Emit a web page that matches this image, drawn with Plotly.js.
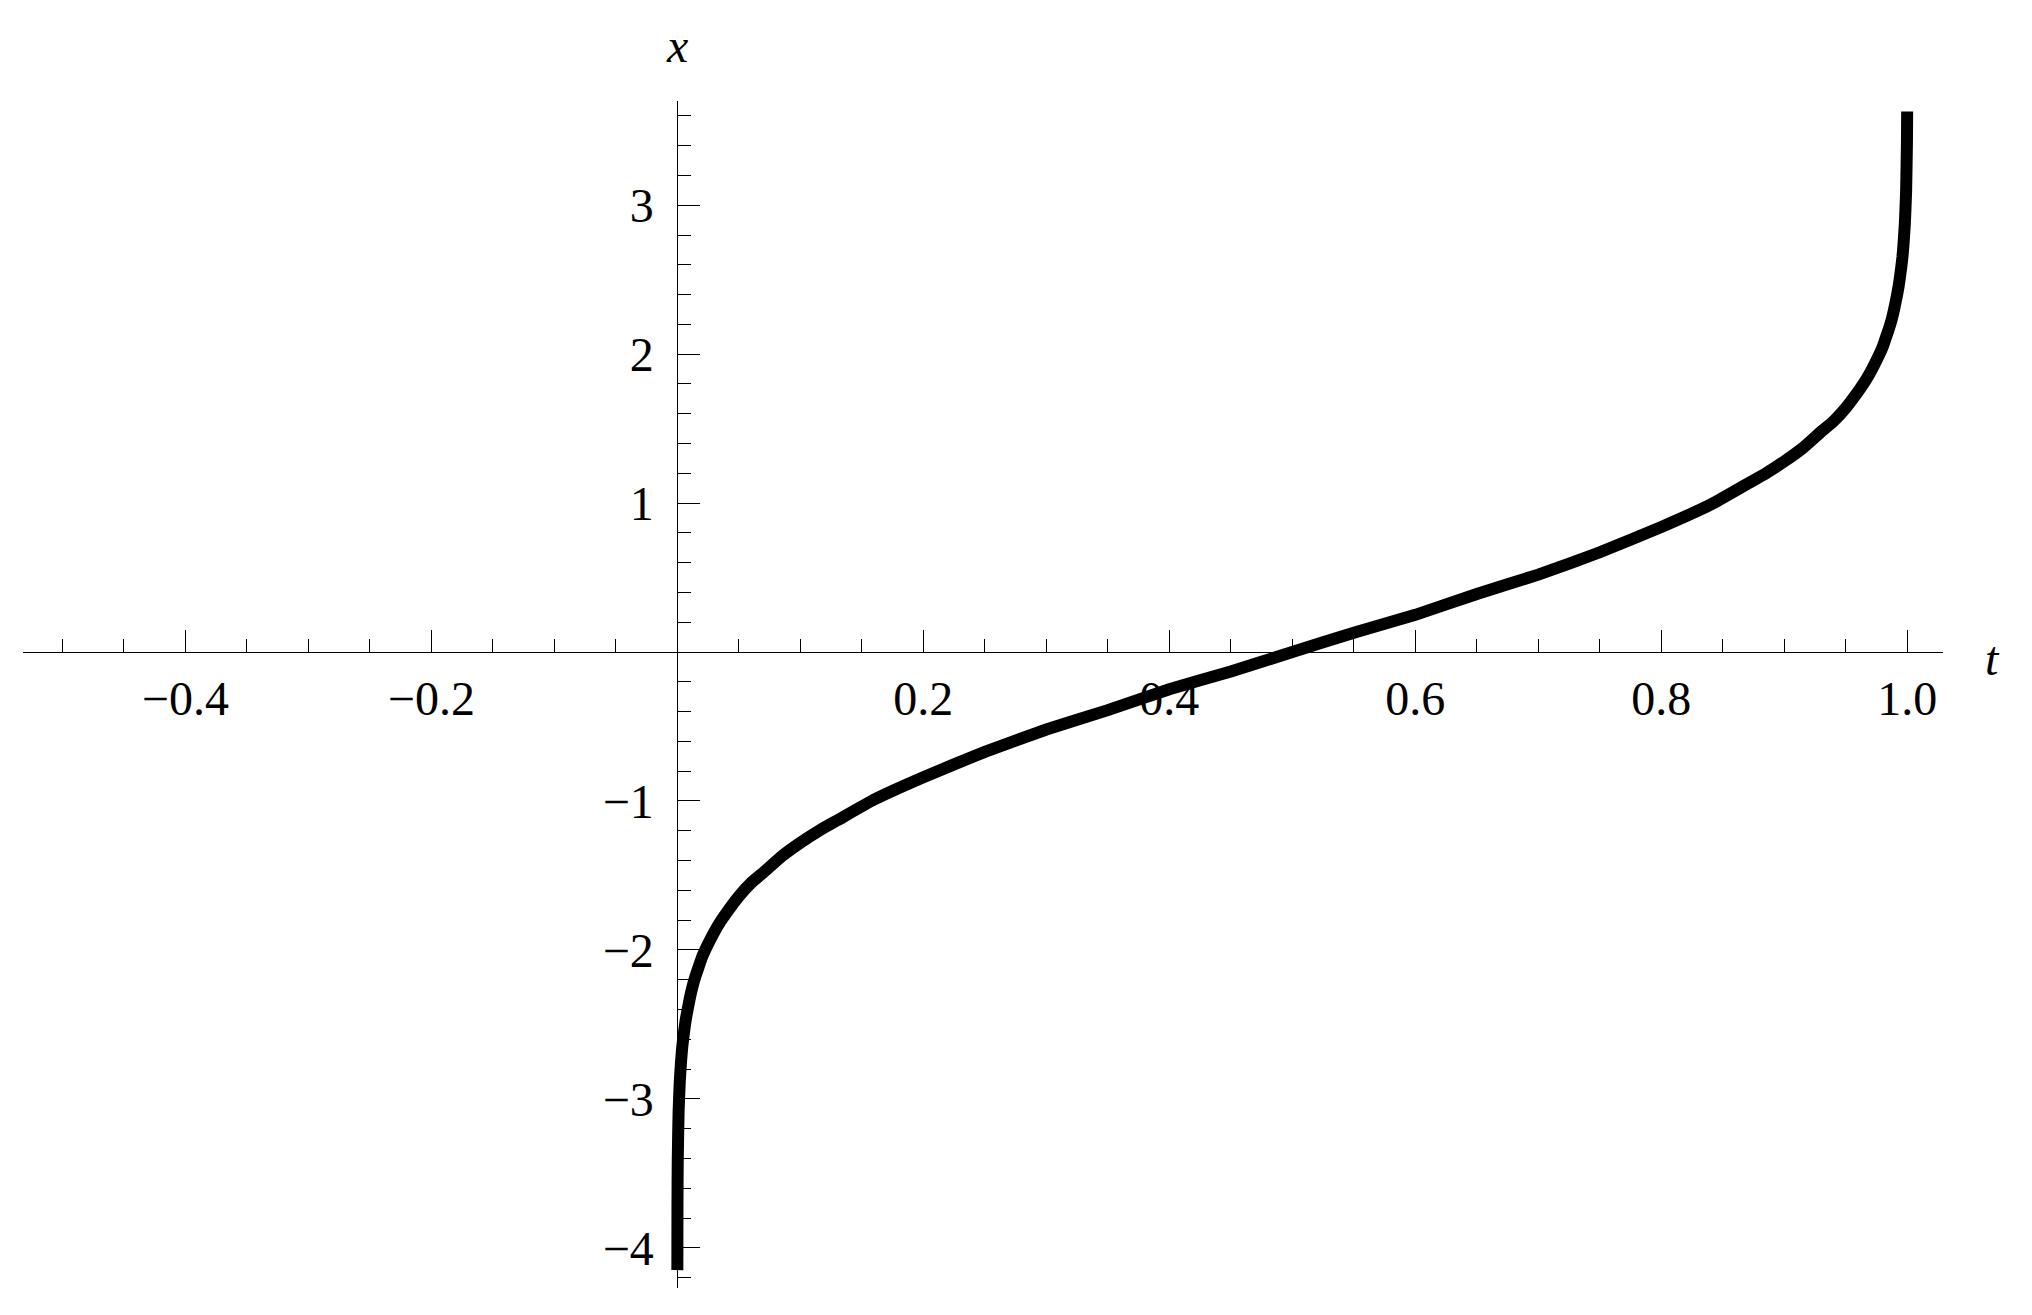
<!DOCTYPE html>
<html>
<head>
<meta charset="utf-8">
<script src="https://cdn.plot.ly/plotly-3.0.1.min.js"></script>
<style>
  html, body { margin: 0; padding: 0; background: #fff; }
  #chart { width: 2032px; height: 1315px; }
</style>
</head>
<body>
<div id="chart"></div>
<script>
// curve: t along the horizontal axis, x up the vertical one
const tValues = [
    0.000017, 0.00003, 0.0001, 0.0003, 0.001, 0.002, 0.003, 0.004, 0.005, 0.007,
    0.01, 0.0125, 0.015, 0.0175, 0.02, 0.025, 0.03, 0.035, 0.04, 0.05,
    0.06, 0.07, 0.085, 0.1, 0.115, 0.13, 0.16, 0.2, 0.25, 0.3,
    0.35, 0.4, 0.45, 0.5, 0.55, 0.6, 0.65, 0.7, 0.75, 0.8,
    0.84, 0.87, 0.885, 0.9, 0.915, 0.93, 0.94, 0.95, 0.96, 0.965,
    0.97, 0.975, 0.98, 0.9825, 0.985, 0.9875, 0.99, 0.993, 0.995, 0.996,
    0.997, 0.998, 0.999, 0.9997, 0.99986
];
const xValues = [
    -4.15, -4.0, -3.72, -3.43, -3.09, -2.88, -2.75, -2.65, -2.58, -2.46,
    -2.33, -2.24, -2.17, -2.11, -2.05, -1.96, -1.88, -1.81, -1.75, -1.64,
    -1.55, -1.48, -1.37, -1.28, -1.20, -1.13, -0.99, -0.84, -0.67, -0.52,
    -0.39, -0.25, -0.13, 0.0, 0.13, 0.25, 0.39, 0.52, 0.67, 0.84,
    0.99, 1.13, 1.20, 1.28, 1.37, 1.48, 1.55, 1.64, 1.75, 1.81,
    1.88, 1.96, 2.05, 2.11, 2.17, 2.24, 2.33, 2.46, 2.58, 2.65,
    2.75, 2.88, 3.09, 3.43, 3.63
];

// axis ticks
const tTicks = [-0.4, -0.2, 0.2, 0.4, 0.6, 0.8, 1.0];
const tTickText = ['\u22120.4', '\u22120.2', '0.2', '0.4', '0.6', '0.8', '1.0'];
const xTicks = [-4, -3, -2, -1, 1, 2, 3];
const xTickText = ['\u22124', '\u22123', '\u22122', '\u22121', '1', '2', '3'];

const tRange = [-0.532, 1.029];
const xRange = [-4.27, 3.70];

const serif = '"Liberation Serif", "Times New Roman", Times, serif';

const traces = [{
    x: tValues,
    y: xValues,
    type: 'scatter',
    mode: 'lines',
    line: { color: '#000', width: 12, shape: 'spline', smoothing: 0.4 },
    hoverinfo: 'skip',
    showlegend: false
}];

// axes cross at the origin, so put each one where the other is zero
const xAxisPos = (0 - xRange[0]) / (xRange[1] - xRange[0]);
const yAxisPos = (0 - tRange[0]) / (tRange[1] - tRange[0]);

const layout = {
    width: 2032,
    height: 1315,
    paper_bgcolor: '#fff',
    plot_bgcolor: '#fff',
    margin: { l: 23, r: 89, t: 101, b: 27 },
    showlegend: false,
    hovermode: false,
    xaxis: {
        range: tRange,
        anchor: 'free',
        position: xAxisPos,
        showgrid: false,
        zeroline: false,
        showline: true,
        linecolor: '#000',
        linewidth: 1,
        tickmode: 'array',
        tickvals: tTicks,
        ticktext: tTickText,
        ticks: 'inside',
        ticklen: 22,
        tickwidth: 1,
        tickcolor: '#000',
        ticklabelstandoff: 4,
        tickfont: { family: serif, size: 48, color: '#000' },
        minor: { tick0: 0, dtick: 0.05, ticks: 'inside', ticklen: 13, tickwidth: 1, tickcolor: '#000' },
        fixedrange: true
    },
    yaxis: {
        range: xRange,
        anchor: 'free',
        position: yAxisPos,
        showgrid: false,
        zeroline: false,
        showline: true,
        linecolor: '#000',
        linewidth: 1,
        tickmode: 'array',
        tickvals: xTicks,
        ticktext: xTickText,
        ticks: 'inside',
        ticklen: 22,
        tickwidth: 1,
        tickcolor: '#000',
        ticklabelstandoff: 14,
        tickfont: { family: serif, size: 48, color: '#000' },
        minor: { tick0: 0, dtick: 0.2, ticks: 'inside', ticklen: 13, tickwidth: 1, tickcolor: '#000' },
        fixedrange: true
    },
    annotations: [
        {
            text: '<i>x</i>', xref: 'x', x: 0, yref: 'paper', y: 1,
            xanchor: 'center', yanchor: 'middle', yshift: 56, showarrow: false,
            font: { family: serif, size: 48, color: '#000' }
        },
        {
            text: '<i>t</i>', xref: 'paper', x: 1, yref: 'y', y: 0,
            xanchor: 'center', yanchor: 'middle', xshift: 49, yshift: -6, showarrow: false,
            font: { family: serif, size: 48, color: '#000' }
        }
    ]
};

Plotly.newPlot('chart', traces, layout, { displayModeBar: false, staticPlot: true });
</script>
</body>
</html>
